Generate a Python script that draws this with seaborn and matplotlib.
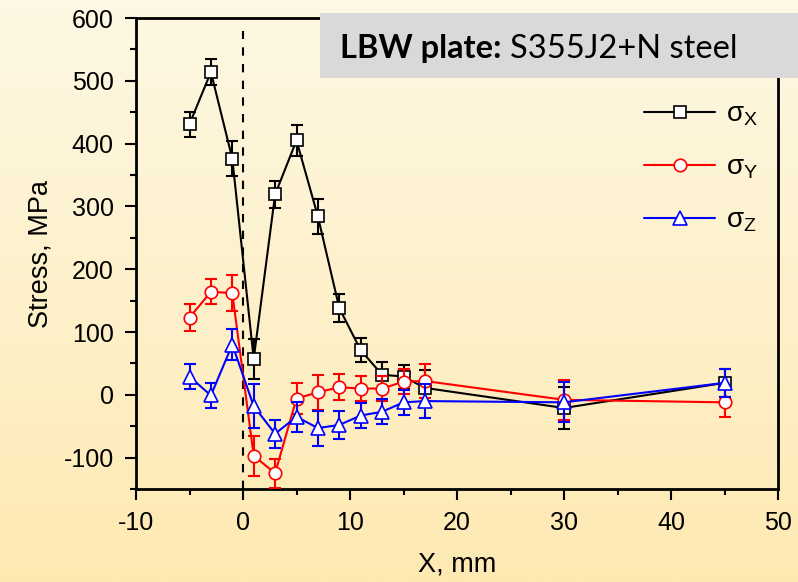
import numpy as np
import pandas as pd
import matplotlib
matplotlib.use("Agg")
import matplotlib.pyplot as plt
from matplotlib.patches import Rectangle
import seaborn as sns

# ---- data ----
x_pos = [-5, -3, -1, 1, 3, 5, 7, 9, 11, 13, 15, 17, 30, 45]
sigma_x = [431, 514, 376, 57, 319, 405, 284, 138, 71, 32, 29, 11, -21, 19]
sigma_x_err = [20, 20, 28, 32, 22, 24, 28, 22, 19, 21, 19, 28, 33, 22]
sigma_y = [123, 164, 162, -97, -125, -6, 4, 12, 10, 10, 21, 22, -8, -12]
sigma_y_err = [21, 20, 28, 32, 23, 25, 28, 21, 20, 20, 20, 27, 32, 23]
sigma_z = [29, -1, 80, -18, -62, -35, -53, -48, -33, -27, -12, -10, -12, 19]
sigma_z_err = [20, 20, 25, 35, 22, 24, 28, 22, 20, 20, 20, 27, 32, 22]
series_labels = ["σ$_\\mathregular{X}$", "σ$_\\mathregular{Y}$", "σ$_\\mathregular{Z}$"]
x_ticks = [-10, 0, 10, 20, 30, 40, 50]
y_ticks = [-100, 0, 100, 200, 300, 400, 500, 600]

sns.set_style("ticks")
plt.rcParams["font.family"] = ["Liberation Sans", "DejaVu Sans"]
plt.rcParams["mathtext.default"] = "regular"
for k in ["text.color", "axes.labelcolor", "xtick.color", "ytick.color", "axes.edgecolor"]:
    plt.rcParams[k] = "black"

fig = plt.figure(figsize=(7.98, 5.82), dpi=100)

# background gradient
bg = fig.add_axes([0, 0, 1, 1], zorder=-10)
grad = np.linspace(0, 1, 256)[:, None]
top = np.array([254, 248, 228]) / 255
bot = np.array([253, 233, 178]) / 255
img = top[None, None, :] * (1 - grad[:, :, None]) + bot[None, None, :] * grad[:, :, None]
bg.imshow(img, aspect="auto", extent=[0, 1, 0, 1])
bg.axis("off")

ax = fig.add_axes([136 / 798, 1 - 489 / 582, (778 - 136) / 798, (489 - 18) / 582])
ax.patch.set_alpha(0)

series = [
    (sigma_x, sigma_x_err, "black", "s", 8.0),
    (sigma_y, sigma_y_err, "red", "o", 9.0),
    (sigma_z, sigma_z_err, "blue", "^", 9.5),
]
handles = []
for i, (vals, errs, col, mk, ms) in enumerate(series):
    df = pd.DataFrame({"x": x_pos, "stress": vals})
    ax.errorbar(x_pos, vals, yerr=errs, fmt="none", ecolor=col, elinewidth=1.5,
                capsize=4.5, capthick=1.5, zorder=2 + i * 2)
    sns.lineplot(data=df, x="x", y="stress", ax=ax, color=col, marker=mk,
                 markersize=ms, markerfacecolor="white", markeredgecolor=col,
                 markeredgewidth=1.2, linewidth=1.5, zorder=3 + i * 2, sort=False)
    handles.append(ax.lines[-1])

ax.vlines(0, -150, 580, colors="black", linestyles=(0, (4, 4)), linewidth=1.5, zorder=1)

ax.set_xlim(-10, 50)
ax.set_ylim(-150, 600)
ax.set_xticks(x_ticks)
ax.set_yticks(y_ticks)
ax.set_xticks(np.arange(-5, 50, 10), minor=True)
ax.set_yticks(np.arange(-150, 600, 100), minor=True)
ax.set_xticklabels([str(t) for t in x_ticks])
ax.set_yticklabels([str(t) for t in y_ticks])
ax.tick_params(which="major", direction="out", length=8, width=1.5, labelsize=18, pad=8, colors="black")
ax.tick_params(which="minor", direction="out", length=4, width=1.5)
for s in ax.spines.values():
    s.set_linewidth(2)
    s.set_color("black")
    s.set_visible(True)
ax.set_xlabel("X, mm", fontsize=19.5, labelpad=12)
ax.set_ylabel("Stress, MPa", fontsize=19.5, labelpad=7)

leg = ax.legend(handles, series_labels, title="LBW", loc="upper left",
                bbox_to_anchor=(633 / 798, 1 - 40 / 582), bbox_transform=fig.transFigure,
                frameon=False, fontsize=20, title_fontsize=18, handlelength=2.55,
                labelspacing=0.95, handletextpad=0.4, borderaxespad=0)
leg.set_zorder(5)

# gray title box
fig.patches.append(Rectangle((320 / 798, 1 - 78 / 582), 1 - 320 / 798, 65 / 582,
                             transform=fig.transFigure, facecolor="#d9d9d9",
                             edgecolor="none", zorder=20))
fig.canvas.draw()
t1 = fig.text(340 / 798, 1 - 58 / 582, "LBW plate:", fontsize=23.5, fontweight="bold",
              family=["Lato", "DejaVu Sans"], ha="left", va="baseline", zorder=21)
r = fig.canvas.get_renderer()
bb = t1.get_window_extent(renderer=r)
fig.text((bb.x1 + 9) / 798, 1 - 58 / 582, "S355J2+N steel", fontsize=23.5,
         family=["Lato", "DejaVu Sans"], ha="left", va="baseline", zorder=21)

fig.savefig("out.png", dpi=100)
